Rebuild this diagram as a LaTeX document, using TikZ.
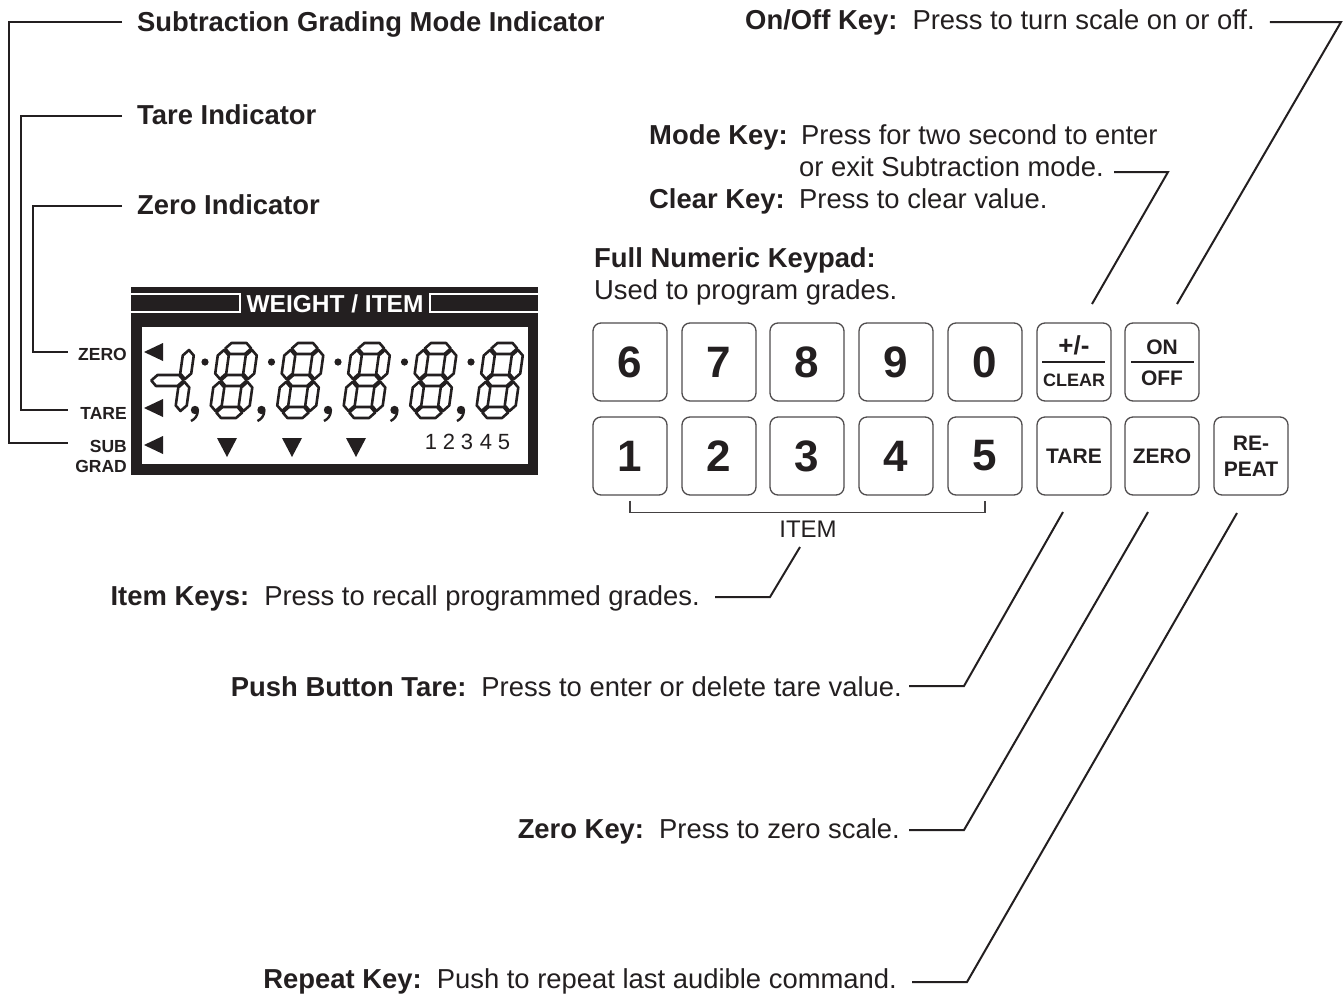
\documentclass[tikz,border=0pt]{standalone}
\usepackage{fontspec}
\setmainfont{Liberation Sans}
\definecolor{ink}{RGB}{35,31,32}
\newcommand{\hsg}[1]{\draw[seg] (6.5,#1) -- (12,#1+5.5) -- (27,#1+5.5) -- (32.5,#1) -- (27,#1-5.5) -- (12,#1-5.5) -- cycle;}
\newcommand{\vsg}[3]{\draw[seg] (#1,#2) -- (#1+5.5,#2+5.5) -- (#1+5.5,#3-5.5) -- (#1,#3) -- (#1-5.5,#3-5.5) -- (#1-5.5,#2+5.5) -- cycle;}
\newcommand{\eightdig}[1]{%
  \begin{scope}[shift={(#1,418)},y=1pt,xslant=0.14]
    \hsg{5.5}\hsg{37.5}\hsg{69.5}%
    \vsg{5.5}{7}{36}\vsg{5.5}{39}{68}%
    \vsg{33.5}{7}{36}\vsg{33.5}{39}{68}%
  \end{scope}}
\begin{document}
\begin{tikzpicture}[x=1pt,y=-1pt,
  txt/.style={inner sep=0pt,text=ink,font=\fontsize{27.4}{32}\selectfont},
  leader/.style={draw=ink,line width=2pt,line join=miter},
  keybox/.style={draw=ink!80,line width=1.3pt,rounded corners=8pt,minimum width=74pt,minimum height=78pt,inner sep=0pt,text=ink,font=\fontsize{44}{44}\selectfont\bfseries},
  keylbl/.style={inner sep=0pt,text=ink,font=\fontsize{21}{21}\selectfont\bfseries},
  seg/.style={draw=ink,fill=white,line width=2.6pt,line join=round},
  indlbl/.style={inner sep=0pt,text=ink,font=\fontsize{17.5}{18}\selectfont\bfseries,anchor=east}]
\useasboundingbox (0,0) rectangle (1343,996);

% ---------------- display ----------------
\fill[ink] (131,287) rectangle (538,475);
\draw[white,line width=1.2pt] (131,294) -- (240,294) -- (240,312) -- (131,312);
\draw[white,line width=1.2pt] (538,294) -- (430,294) -- (430,312) -- (538,312);
\node[inner sep=0pt,text=white,font=\fontsize{24.5}{25}\selectfont\bfseries] (title) at (335,304) {WEIGHT / ITEM};
\fill[white] (142,327) rectangle (528,464);

\begin{scope}[shift={(146,418)},y=1pt,xslant=0.14]
  \vsg{33.5}{7}{36}\vsg{33.5}{39}{68}
  \draw[seg] (0,37.5) -- (5.5,43) -- (27,43) -- (32.5,37.5) -- (27,32) -- (5.5,32) -- cycle;
\end{scope}
\foreach \L in {209,275.5,342,408.5,475}{
  \eightdig{\L}
  \fill[ink] (\L-4,362) circle[radius=3.6pt];
  \fill[ink] (\L-14,410) circle[radius=4.2pt];
  \draw[ink,line width=2.4pt] (\L-11.2,411) .. controls (\L-11.5,416) and (\L-14,419) .. (\L-18,421);
}
\foreach \c in {352,408,445} \fill[ink] (144,\c) -- (163,\c-9) -- (163,\c+9) -- cycle;
\foreach \c in {227,292,356} \fill[ink] (\c-10,438) -- (\c+10,438) -- (\c,457) -- cycle;
\foreach \d/\x in {1/431,2/449,3/467,4/486,5/504}
  \node[inner sep=0pt,text=ink,font=\fontsize{22}{22}\selectfont] (gr\d) at (\x,442) {\d};

\node[indlbl] (lzero) at (127,354) {ZERO};
\node[indlbl] (ltare) at (127,413) {TARE};
\node[indlbl] (lsub) at (127,446) {SUB};
\node[indlbl] (lgrad) at (127,466) {GRAD};
\coordinate (ezero) at (68,352);
\coordinate (etare) at (68,410);
\coordinate (esub) at (68,443);

% ---------------- left labels ----------------
\node[txt,anchor=base west] (subt) at (137,31) {\textbf{Subtraction Grading Mode Indicator}};
\node[txt,anchor=base west] (tarei) at (137,124) {\textbf{Tare Indicator}};
\node[txt,anchor=base west] (zeroi) at (137,214) {\textbf{Zero Indicator}};
\draw[leader] ([xshift=-15pt,yshift=9pt]subt.base west) -| (9,443) -- (esub);
\draw[leader] ([xshift=-15pt,yshift=8pt]tarei.base west) -| (21,410) -- (etare);
\draw[leader] ([xshift=-15pt,yshift=8pt]zeroi.base west) -| (33,352) -- (ezero);

% ---------------- keypad ----------------
\node[keybox] (k6) at (630,362) {6};
\node[keybox] (k7) at (719,362) {7};
\node[keybox] (k8) at (807,362) {8};
\node[keybox] (k9) at (896,362) {9};
\node[keybox] (k0) at (985,362) {0};
\node[keybox] (kpm) at (1074,362) {};
\node[keybox] (kon) at (1162,362) {};
\node[keybox] (k1) at (630,456) {1};
\node[keybox] (k2) at (719,456) {2};
\node[keybox] (k3) at (807,456) {3};
\node[keybox] (k4) at (896,456) {4};
\node[keybox] (k5) at (985,456) {5};
\node[keybox,font=\fontsize{21}{21}\selectfont\bfseries] (ktare) at (1074,456) {TARE};
\node[keybox,font=\fontsize{21}{21}\selectfont\bfseries] (kzero) at (1162,456) {ZERO};
\node[keybox] (krep) at (1251,456) {};

\node[keylbl,font=\fontsize{26}{26}\selectfont\bfseries] (pm) at (1074,345) {+/-};
\draw[ink,line width=1.2pt] ([xshift=-32pt]kpm.center) -- ([xshift=31pt]kpm.center);
\node[keylbl,font=\fontsize{18}{18}\selectfont\bfseries] (clr) at (1074,380) {CLEAR};
\node[keylbl] (on) at (1162,347) {ON};
\draw[ink,line width=1.2pt] ([xshift=-31pt]kon.center) -- ([xshift=32pt]kon.center);
\node[keylbl] (off) at (1162,378) {OFF};
\node[keylbl] (re) at (1251,443) {RE-};
\node[keylbl] (peat) at (1251,469) {PEAT};

\draw[ink!85,line width=1.5pt] ([yshift=-5pt]k1.south) -- ++(0,12) -| ([yshift=-5pt]k5.south);
\node[inner sep=0pt,text=ink,font=\fontsize{24}{24}\selectfont] (item) at (808,529) {ITEM};

% ---------------- right labels ----------------
\node[txt,anchor=base west] (onoff) at (745,29) {\textbf{On/Off Key:}\hspace{0.55em}Press to turn scale on or off.};
\node[txt,anchor=base west] (model) at (649,144) {\textbf{Mode Key:}};
\node[txt,anchor=base west] (modet) at (801,144) {Press for two second to enter};
\node[txt,anchor=base west] (modet2) at (799,176) {or exit Subtraction mode.};
\node[txt,anchor=base west] (clearl) at (649,208) {\textbf{Clear Key:}};
\node[txt,anchor=base west] (cleart) at (799,208) {Press to clear value.};
\node[txt,anchor=base west] (fnk) at (594,267) {\textbf{Full Numeric Keypad:}};
\node[txt,anchor=base west] (fnk2) at (594,299) {Used to program grades.};

\node[txt,anchor=base east] (itemk) at (700,605) {\textbf{Item Keys:}\hspace{0.55em}Press to recall programmed grades.};
\node[txt,anchor=base east] (pbt) at (902,696) {\textbf{Push Button Tare:}\hspace{0.55em}Press to enter or delete tare value.};
\node[txt,anchor=base east] (zerok) at (900,838) {\textbf{Zero Key:}\hspace{0.55em}Press to zero scale.};
\node[txt,anchor=base east] (repk) at (897,988) {\textbf{Repeat Key:}\hspace{0.55em}Push to repeat last audible command.};

\coordinate (onE) at (1177,304);
\coordinate (modeE) at (1092,304);
\coordinate (itemE) at (800,547);
\coordinate (tareE) at (1063,512);
\coordinate (zeroE) at (1148,512);
\coordinate (repE) at (1237,513);

\draw[leader] ([xshift=15pt,yshift=7pt]onoff.base east) -- (1341,22) -- (onE);
\draw[leader] ([xshift=10pt,yshift=4pt]modet2.base east) -- (1168,172) -- (modeE);
\draw[leader] ([xshift=15pt,yshift=8pt]itemk.base east) -- (770,597) -- (itemE);
\draw[leader] ([xshift=7pt,yshift=10pt]pbt.base east) -- (964,686) -- (tareE);
\draw[leader] ([xshift=9pt,yshift=8pt]zerok.base east) -- (964,830) -- (zeroE);
\draw[leader] ([xshift=15pt,yshift=6pt]repk.base east) -- (967,982) -- (repE);
\end{tikzpicture}
\end{document}
